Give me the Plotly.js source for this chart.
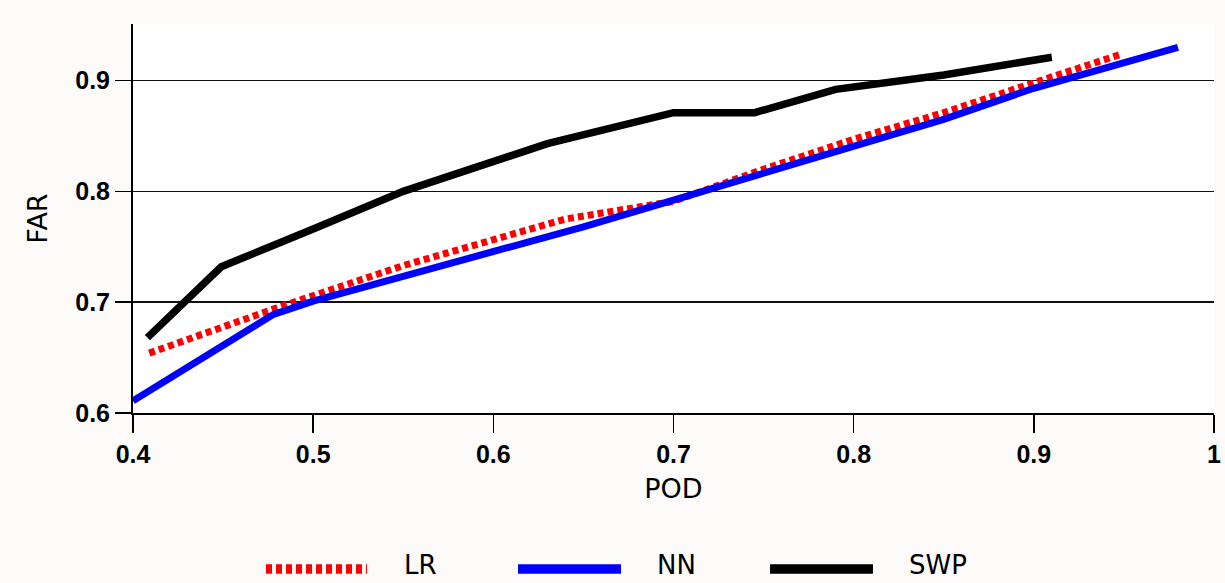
<!DOCTYPE html>
<html>
<head>
<meta charset="utf-8">
<script src="https://cdn.plot.ly/plotly-3.0.1.min.js"></script>
<style>
  html, body { margin: 0; padding: 0; background: #fcfbfa; }
  #chart { width: 1225px; height: 583px; }
</style>
</head>
<body>
<div id="chart"></div>
<script>
// ---- Data ----
const seriesNames = ["LR", "NN", "SWP"];

const lrPOD = [0.409, 0.48, 0.55, 0.60, 0.64, 0.70, 0.75, 0.80, 0.85, 0.90, 0.949];
const lrFAR = [0.654, 0.695, 0.733, 0.757, 0.775, 0.791, 0.820, 0.847, 0.871, 0.898, 0.924];

const nnPOD = [0.40, 0.478, 0.50, 0.55, 0.60, 0.65, 0.70, 0.75, 0.80, 0.85, 0.90, 0.98];
const nnFAR = [0.611, 0.689, 0.701, 0.723, 0.745, 0.768, 0.792, 0.816, 0.840, 0.865, 0.893, 0.930];

const swpPOD = [0.408, 0.449, 0.50, 0.55, 0.63, 0.70, 0.745, 0.79, 0.85, 0.91];
const swpFAR = [0.668, 0.732, 0.766, 0.800, 0.843, 0.871, 0.871, 0.892, 0.905, 0.921];

const xTickVals = [0.4, 0.5, 0.6, 0.7, 0.8, 0.9, 1.0];
const xTickText = ["0.4", "0.5", "0.6", "0.7", "0.8", "0.9", "1"];
const yTickVals = [0.6, 0.7, 0.8, 0.9];
const yTickText = ["0.6", "0.7", "0.8", "0.9"];

const xTitle = "POD";
const yTitle = "FAR";

// ---- Styles ----
const colors = ["#ff0000", "#0000ff", "#000000"];
const widths = [7, 7, 7.5];
const dashes = ["6px,4px", "solid", "solid"];

const traces = [
  { x: lrPOD, y: lrFAR },
  { x: nnPOD, y: nnFAR },
  { x: swpPOD, y: swpFAR }
].map((d, i) => ({
  type: "scatter",
  mode: "lines",
  name: seriesNames[i],
  x: d.x,
  y: d.y,
  line: { color: colors[i], width: widths[i], dash: dashes[i] },
  hoverinfo: "x+y+name"
}));

// custom legend (long sample lines like the reference)
const plotL = 133, plotR = 1214, plotT = 24, plotB = 413;
const px2x = px => (px - plotL) / (plotR - plotL);
const py2y = py => (plotB - py) / (plotB - plotT);
const legendSamples = [[266, 367, 402], [518, 621, 655], [770, 873, 907]];
const legendY = 569;

const shapes = legendSamples.map((s, i) => ({
  type: "line", xref: "paper", yref: "paper",
  x0: px2x(s[0]), x1: px2x(s[1]), y0: py2y(legendY), y1: py2y(legendY),
  line: { color: colors[i], width: 9.5, dash: dashes[i] === "solid" ? "solid" : "6px,4px" }
}));
const annotations = legendSamples.map((s, i) => ({
  xref: "paper", yref: "paper",
  x: px2x(s[2]), y: py2y(582),
  xanchor: "left", yanchor: "bottom",
  text: seriesNames[i], showarrow: false,
  font: { family: "DejaVu Sans", size: 26, color: "#000" }
}));

const tickFont = { family: "Liberation Sans, Arial, sans-serif", size: 25, color: "#000", weight: "bold" };
const titleFont = { family: "DejaVu Sans, sans-serif", size: 27, color: "#000" };

const layout = {
  width: 1225, height: 583,
  margin: { l: 133, r: 11, t: 24, b: 170, pad: 0 },
  paper_bgcolor: "#fcfbfa",
  plot_bgcolor: "#ffffff",
  showlegend: false,
  xaxis: {
    range: [0.4, 1.0],
    tickmode: "array", tickvals: xTickVals, ticktext: xTickText,
    ticks: "outside", ticklen: 18, tickwidth: 1.5, tickcolor: "#000",
    showline: true, linecolor: "#000", linewidth: 2,
    showgrid: false, zeroline: false,
    tickfont: tickFont,
    title: { text: xTitle, font: titleFont, standoff: 12 }
  },
  yaxis: {
    range: [0.6, 0.951],
    tickmode: "array", tickvals: yTickVals, ticktext: yTickText,
    ticks: "outside", ticklen: 16, tickwidth: 1.5, tickcolor: "#000",
    showline: true, linecolor: "#000", linewidth: 2,
    showgrid: true, gridcolor: "#111", gridwidth: 1.5,
    zeroline: false,
    tickfont: tickFont,
    title: { text: yTitle, font: titleFont, standoff: 20 }
  },
  shapes: shapes,
  annotations: annotations
};

Plotly.newPlot("chart", traces, layout, { displayModeBar: false, staticPlot: true });
</script>
</body>
</html>
